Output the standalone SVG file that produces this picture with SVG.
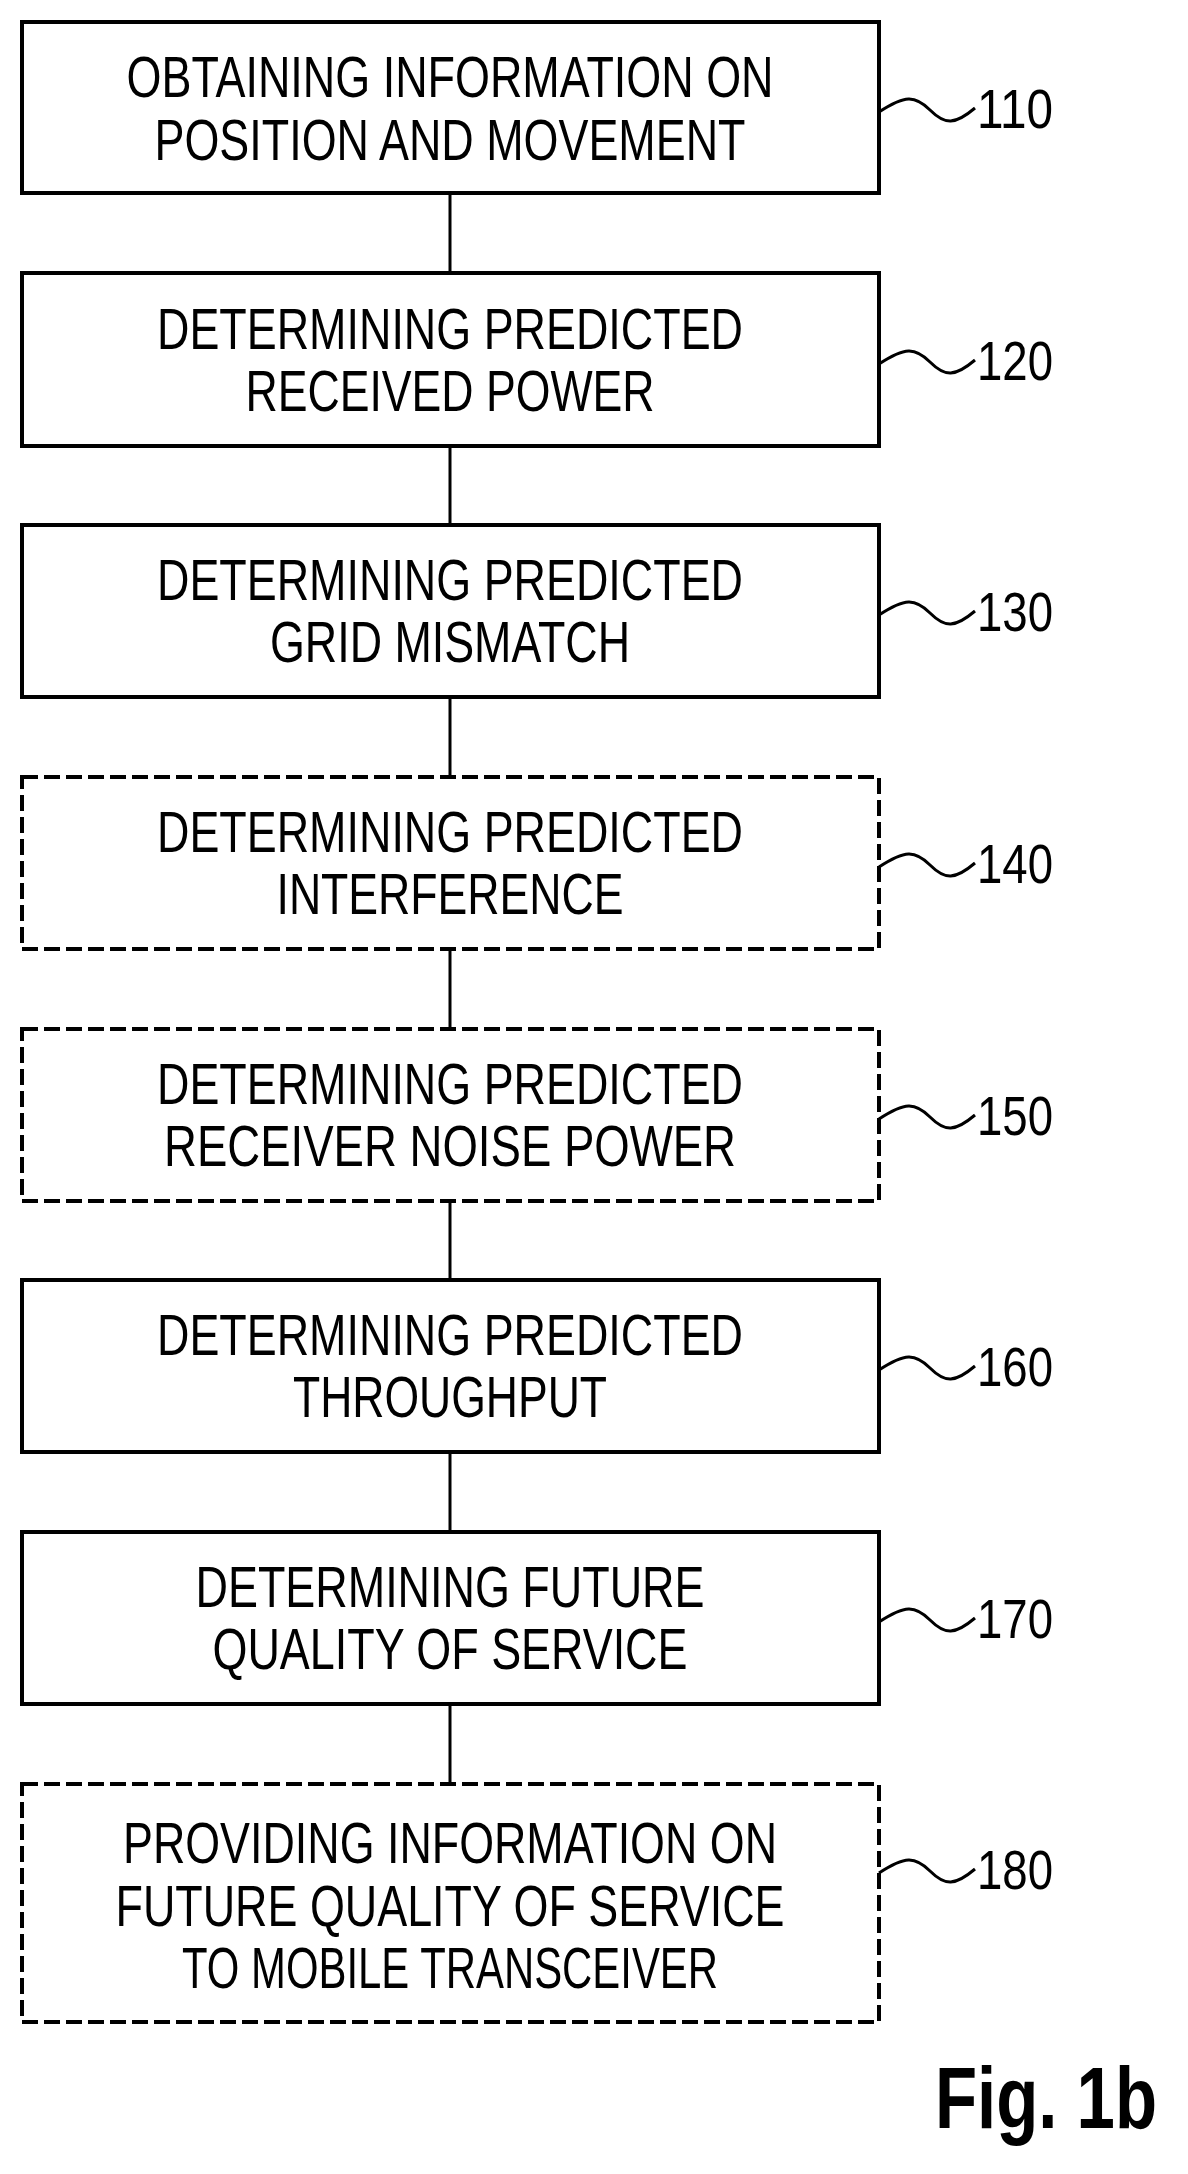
<svg xmlns="http://www.w3.org/2000/svg" width="1188" height="2174" viewBox="0 0 1188 2174">
<style>
.b{fill:#fff;stroke:#000;stroke-width:4}
.d{stroke-dasharray:16 6}
.t{font-family:"Liberation Sans",Arial,sans-serif;font-size:58px;text-anchor:middle;fill:#000}
.n{font-family:"Liberation Sans",Arial,sans-serif;font-size:56px;fill:#000}
.w{fill:none;stroke:#000;stroke-width:3}
.c{stroke:#000;stroke-width:3}
</style>
<rect width="1188" height="2174" fill="#fff"/>
<g id="connectors">
<line class="c" x1="450" y1="193" x2="450" y2="273"/>
<line class="c" x1="450" y1="446" x2="450" y2="525"/>
<line class="c" x1="450" y1="697" x2="450" y2="777"/>
<line class="c" x1="450" y1="949" x2="450" y2="1029"/>
<line class="c" x1="450" y1="1201" x2="450" y2="1280"/>
<line class="c" x1="450" y1="1452" x2="450" y2="1532"/>
<line class="c" x1="450" y1="1704" x2="450" y2="1784"/>
</g>
<g id="n110"><rect class="b" x="22" y="22" width="857" height="171"/>
<text class="t" x="450" y="97" textLength="647" lengthAdjust="spacingAndGlyphs">OBTAINING INFORMATION ON</text>
<text class="t" x="450" y="160" textLength="591" lengthAdjust="spacingAndGlyphs">POSITION AND MOVEMENT</text>
<path class="w" d="M879 112 C905 95 915 95 930 110 S955 125 975 108"/><text class="n" x="977" y="128" textLength="76" lengthAdjust="spacingAndGlyphs">110</text></g>
<g id="n120"><rect class="b" x="22" y="273" width="857" height="173"/>
<text class="t" x="450" y="349" textLength="586" lengthAdjust="spacingAndGlyphs">DETERMINING PREDICTED</text>
<text class="t" x="450" y="411" textLength="409" lengthAdjust="spacingAndGlyphs">RECEIVED POWER</text>
<path class="w" d="M879 364 C905 347 915 347 930 362 S955 377 975 360"/><text class="n" x="977" y="380" textLength="76" lengthAdjust="spacingAndGlyphs">120</text></g>
<g id="n130"><rect class="b" x="22" y="525" width="857" height="172"/>
<text class="t" x="450" y="600" textLength="586" lengthAdjust="spacingAndGlyphs">DETERMINING PREDICTED</text>
<text class="t" x="450" y="662" textLength="360" lengthAdjust="spacingAndGlyphs">GRID MISMATCH</text>
<path class="w" d="M879 615 C905 598 915 598 930 613 S955 628 975 611"/><text class="n" x="977" y="631" textLength="76" lengthAdjust="spacingAndGlyphs">130</text></g>
<g id="n140"><rect class="b d" x="22" y="777" width="857" height="172"/>
<text class="t" x="450" y="852" textLength="586" lengthAdjust="spacingAndGlyphs">DETERMINING PREDICTED</text>
<text class="t" x="450" y="914" textLength="347" lengthAdjust="spacingAndGlyphs">INTERFERENCE</text>
<path class="w" d="M879 867 C905 850 915 850 930 865 S955 880 975 863"/><text class="n" x="977" y="883" textLength="76" lengthAdjust="spacingAndGlyphs">140</text></g>
<g id="n150"><rect class="b d" x="22" y="1029" width="857" height="172"/>
<text class="t" x="450" y="1104" textLength="586" lengthAdjust="spacingAndGlyphs">DETERMINING PREDICTED</text>
<text class="t" x="450" y="1166" textLength="572" lengthAdjust="spacingAndGlyphs">RECEIVER NOISE POWER</text>
<path class="w" d="M879 1119 C905 1102 915 1102 930 1117 S955 1132 975 1115"/><text class="n" x="977" y="1135" textLength="76" lengthAdjust="spacingAndGlyphs">150</text></g>
<g id="n160"><rect class="b" x="22" y="1280" width="857" height="172"/>
<text class="t" x="450" y="1355" textLength="586" lengthAdjust="spacingAndGlyphs">DETERMINING PREDICTED</text>
<text class="t" x="450" y="1417" textLength="314" lengthAdjust="spacingAndGlyphs">THROUGHPUT</text>
<path class="w" d="M879 1370 C905 1353 915 1353 930 1368 S955 1383 975 1366"/><text class="n" x="977" y="1386" textLength="76" lengthAdjust="spacingAndGlyphs">160</text></g>
<g id="n170"><rect class="b" x="22" y="1532" width="857" height="172"/>
<text class="t" x="450" y="1607" textLength="509" lengthAdjust="spacingAndGlyphs">DETERMINING FUTURE</text>
<text class="t" x="450" y="1669" textLength="475" lengthAdjust="spacingAndGlyphs">QUALITY OF SERVICE</text>
<path class="w" d="M879 1622 C905 1605 915 1605 930 1620 S955 1635 975 1618"/><text class="n" x="977" y="1638" textLength="76" lengthAdjust="spacingAndGlyphs">170</text></g>
<g id="n180"><rect class="b d" x="22" y="1784" width="857" height="238"/>
<text class="t" x="450" y="1863" textLength="654" lengthAdjust="spacingAndGlyphs">PROVIDING INFORMATION ON</text>
<text class="t" x="450" y="1926" textLength="669" lengthAdjust="spacingAndGlyphs">FUTURE QUALITY OF SERVICE</text>
<text class="t" x="450" y="1988" textLength="536" lengthAdjust="spacingAndGlyphs">TO MOBILE TRANSCEIVER</text>
<path class="w" d="M879 1873 C905 1856 915 1856 930 1871 S955 1886 975 1869"/><text class="n" x="977" y="1889" textLength="76" lengthAdjust="spacingAndGlyphs">180</text></g>
<text x="935" y="2128" font-family="Liberation Sans,Arial,sans-serif" font-size="88" font-weight="bold" textLength="222" lengthAdjust="spacingAndGlyphs">Fig. 1b</text>
</svg>
